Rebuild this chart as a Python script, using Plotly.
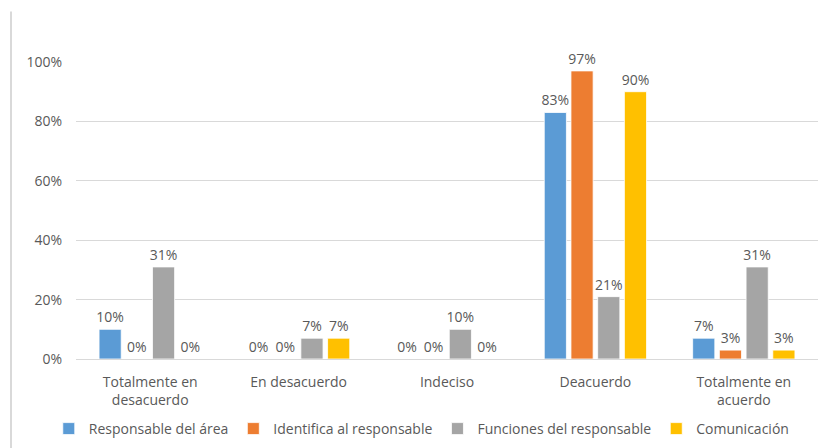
import plotly.graph_objects as go

# Survey answers (share of respondents) per response category
categorias = ["Totalmente en<br>desacuerdo", "En desacuerdo", "Indeciso",
              "Deacuerdo", "Totalmente en<br>acuerdo"]
responsable_area = [0.10, 0.00, 0.00, 0.83, 0.07]
identifica_responsable = [0.00, 0.00, 0.00, 0.97, 0.03]
funciones_responsable = [0.31, 0.07, 0.10, 0.21, 0.31]
comunicacion = [0.00, 0.07, 0.00, 0.90, 0.03]

series = [
    ("Responsable del área", responsable_area, "#5B9BD5"),
    ("Identifica al responsable", identifica_responsable, "#ED7D31"),
    ("Funciones del responsable", funciones_responsable, "#A5A5A5"),
    ("Comunicación", comunicacion, "#FFC000"),
]

FONT = "Open Sans, Liberation Sans, sans-serif"
TXT = "#595959"

fig = go.Figure()
for nombre, valores, color in series:
    fig.add_trace(go.Bar(
        name=nombre, x=categorias, y=valores,
        marker=dict(color=color, line=dict(color="white", width=0.8)),
        text=[f"{v:.0%}" for v in valores],
        textposition="outside",
        constraintext="none",
        textfont=dict(family=FONT, size=14, color=TXT),
        cliponaxis=False,
    ))

fig.update_layout(
    width=827, height=448,
    margin=dict(l=76, r=9, t=62, b=89),
    paper_bgcolor="white", plot_bgcolor="white",
    barmode="group", bargap=0.28, bargroupgap=0.17,
    font=dict(family=FONT, size=14, color=TXT),
    showlegend=True,
    legend=dict(orientation="h", x=0.51, xanchor="center", xref="container",
                y=1 - 429 / 448, yanchor="middle", yref="container",
                font=dict(family=FONT, size=14, color=TXT),
                itemwidth=30, traceorder="normal"),
    xaxis=dict(showgrid=False, showline=False, ticks="", automargin=False,
               ticklabelstandoff=13,
               tickfont=dict(family=FONT, size=14, color=TXT)),
    yaxis=dict(range=[0, 1.0], dtick=0.2, tickformat=".0%", automargin=False,
               showgrid=True, gridcolor="#D9D9D9", gridwidth=1,
               zeroline=True, zerolinecolor="#D9D9D9", zerolinewidth=1,
               showline=False, ticks="", ticklabelstandoff=13,
               tickfont=dict(family=FONT, size=14, color=TXT)),
    shapes=[dict(type="line", xref="paper", yref="paper",
                 x0=-0.0876, x1=-0.0876, y0=1.17, y1=-0.31,
                 line=dict(color="#D9D9D9", width=2))],
)

fig.write_html("out.html")
